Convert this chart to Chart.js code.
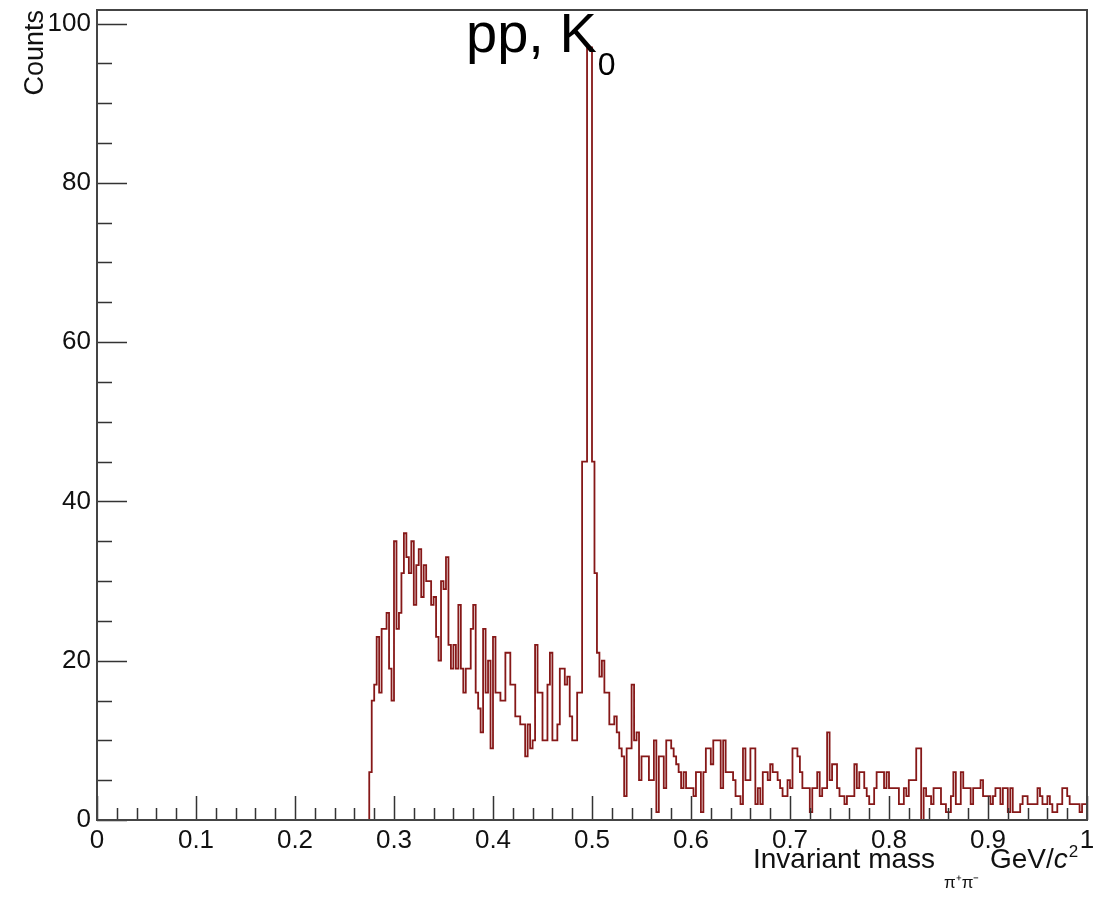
<!DOCTYPE html>
<html>
<head>
<meta charset="utf-8">
<title>pp, K0 - invariant mass</title>
<script src="https://cdn.jsdelivr.net/npm/chart.js@4.4.1/dist/chart.umd.min.js"></script>
<style>
  html, body { margin: 0; padding: 0; background: #fff; }
  #wrap { width: 1107px; height: 898px; }
</style>
</head>
<body>
<div id="wrap"><canvas id="grafico" width="1107" height="898"></canvas></div>
<script>
// Binagem do histograma (GeV/c^2)
const binLow = 0.275;
const binWidth = 0.0025;

// Contagens por bin, a partir de binLow
const counts = [
   6, 15, 17, 23, 16, 24, 24, 26, 19, 15,
  35, 24, 26, 31, 36, 33, 31, 35, 27, 32,
  34, 28, 32, 30, 30, 27, 28, 23, 20, 30,
  29, 33, 22, 19, 22, 19, 27, 19, 16, 19,
  19, 24, 27, 16, 14, 11, 24, 16, 20,  9,
  23, 16, 16, 15, 15, 21, 21, 17, 17, 13,
  13, 12, 12,  8, 12,  9, 10, 22, 16, 16,
  10, 10, 17, 21, 10, 10, 12, 19, 19, 17,
  18, 13, 10, 10, 16, 16, 45, 45, 97, 97,
  45, 31, 21, 18, 20, 16, 16, 12, 12, 13,
  11,  9,  8,  3,  9,  9, 17, 10, 11,  5,
   8,  8,  8,  5,  5, 10,  1,  8,  8,  4,
  10, 10,  9,  8,  7,  6,  4,  6,  4,  4,
   4,  3,  6,  6,  1,  6,  9,  9,  7, 10,
  10, 10,  4, 10,  6,  6,  6,  5,  3,  3,
   2,  9,  5,  5,  9,  9,  2,  4,  2,  6,
   6,  5,  7,  6,  6,  5,  4,  3,  3,  5,
   4,  9,  9,  8,  6,  4,  4,  4,  1,  4,
   4,  6,  3,  4,  4, 11,  5,  7,  7,  4,
   3,  3,  2,  3,  3,  3,  7,  4,  6,  6,
   4,  3,  2,  2,  4,  6,  6,  6,  4,  6,
   4,  4,  4,  4,  2,  2,  4,  3,  5,  5,
   5,  9,  9,  0,  4,  3,  3,  2,  4,  4,
   4,  2,  2,  1,  1,  3,  6,  2,  2,  6,
   4,  4,  4,  2,  4,  4,  4,  5,  3,  3,
   3,  2,  3,  4,  4,  2,  4,  4,  1,  4,
   1,  1,  1,  2,  3,  3,  2,  2,  2,  2,
   4,  3,  2,  2,  3,  2,  1,  1,  2,  2,
   4,  4,  3,  2,  2,  2,  2,  1,  2,  2
];

// Eixos
const xTicks = [0, 0.1, 0.2, 0.3, 0.4, 0.5, 0.6, 0.7, 0.8, 0.9, 1];
const xTickLabels = ['0', '0.1', '0.2', '0.3', '0.4', '0.5', '0.6', '0.7', '0.8', '0.9', '1'];
const yTicks = [0, 20, 40, 60, 80, 100];
const yTickLabels = ['0', '20', '40', '60', '80', '100'];
const yMax = 101.7;
const xMinorStep = 0.02;
const yMinorStep = 5;

const fonte = "'Liberation Sans', Arial, Helvetica, sans-serif";

// Pontos do contorno em degraus (borda esquerda de cada bin)
const pontos = [{ x: binLow, y: 0 }];
counts.forEach((c, i) => pontos.push({ x: binLow + i * binWidth, y: c }));
pontos.push({ x: binLow + counts.length * binWidth, y: counts[counts.length - 1] });

// Moldura estilo ROOT: caixa, marcas internas e textos
const moldura = {
    id: 'moldura',
    afterDraw(chart) {
        const { ctx, chartArea: a, scales: { x, y } } = chart;
        ctx.save();

        // marcas do eixo x
        ctx.strokeStyle = '#333';
        ctx.lineWidth = 1.5;
        ctx.beginPath();
        const nx = Math.round(1 / xMinorStep);
        for (let i = 0; i <= nx; i++) {
            const px = Math.round(x.getPixelForValue(i * xMinorStep)) + 0.5;
            const len = (i % 5 === 0) ? 24 : 12;
            ctx.moveTo(px, a.bottom);
            ctx.lineTo(px, a.bottom - len);
        }
        // marcas do eixo y
        const ny = Math.round(100 / yMinorStep);
        for (let i = 0; i <= ny; i++) {
            const py = Math.round(y.getPixelForValue(i * yMinorStep)) + 0.5;
            const len = (i % 4 === 0) ? 30 : 15;
            ctx.moveTo(a.left, py);
            ctx.lineTo(a.left + len, py);
        }
        ctx.stroke();

        // caixa
        ctx.strokeStyle = '#444';
        ctx.lineWidth = 2;
        ctx.strokeRect(a.left, a.top, a.right - a.left, a.bottom - a.top);

        ctx.fillStyle = '#111';
        ctx.textBaseline = 'alphabetic';

        // título do eixo y
        ctx.save();
        ctx.translate(43, a.top);
        ctx.rotate(-Math.PI / 2);
        ctx.textAlign = 'right';
        ctx.font = '27px ' + fonte;
        ctx.fillText('Counts', 0, 0);
        ctx.restore();

        // título do eixo x
        ctx.textAlign = 'left';
        const base = 868;
        ctx.font = '28px ' + fonte;
        ctx.fillText('Invariant mass', 753, base);
        ctx.font = '17px ' + fonte;
        ctx.fillText('\u03c0\u207a\u03c0\u207b', 944, base + 20);
        let cx = 990;
        ctx.font = '28px ' + fonte;
        ctx.fillText('GeV/', cx, base);
        cx += ctx.measureText('GeV/').width;
        ctx.font = 'italic 28px ' + fonte;
        ctx.fillText('c', cx, base);
        cx += ctx.measureText('c').width + 1;
        ctx.font = '17px ' + fonte;
        ctx.fillText('2', cx, base - 11);

        // título do gráfico
        ctx.font = '56px ' + fonte;
        ctx.fillStyle = '#000';
        ctx.fillText('pp, K', 466, 52);
        const tw = ctx.measureText('pp, K').width;
        ctx.font = '32px ' + fonte;
        ctx.fillText('0', 466 + tw + 1, 75);

        ctx.restore();
    }
};

const ctx = document.getElementById('grafico').getContext('2d');
new Chart(ctx, {
    type: 'line',
    data: {
        datasets: [{
            data: pontos,
            stepped: 'before',
            borderColor: '#861818',
            borderWidth: 1.8,
            pointRadius: 0,
            fill: false,
            tension: 0
        }]
    },
    options: {
        responsive: false,
        animation: false,
        layout: { padding: { top: 10, right: 20, left: 0, bottom: 0 } },
        plugins: {
            legend: { display: false },
            tooltip: { enabled: false },
            title: { display: false }
        },
        scales: {
            x: {
                type: 'linear',
                min: 0,
                max: 1,
                afterBuildTicks: s => { s.ticks = xTicks.map(v => ({ value: v })); },
                afterFit: s => { s.height = 78; s.paddingLeft = 0; s.paddingRight = 0; },
                grid: { display: false, drawTicks: false },
                border: { display: false },
                ticks: {
                    autoSkip: false,
                    maxRotation: 0,
                    padding: 5,
                    color: '#111',
                    font: { family: fonte, size: 26 },
                    callback: (v, i) => xTickLabels[i]
                }
            },
            y: {
                type: 'linear',
                min: 0,
                max: yMax,
                afterBuildTicks: s => { s.ticks = yTicks.map(v => ({ value: v })); },
                afterFit: s => { s.width = 97; s.paddingTop = 0; s.paddingBottom = 0; },
                grid: { display: false, drawTicks: false },
                border: { display: false },
                ticks: {
                    padding: 6,
                    color: '#111',
                    font: { family: fonte, size: 26 },
                    callback: (v, i) => yTickLabels[i]
                }
            }
        }
    },
    plugins: [moldura]
});
</script>
</body>
</html>
